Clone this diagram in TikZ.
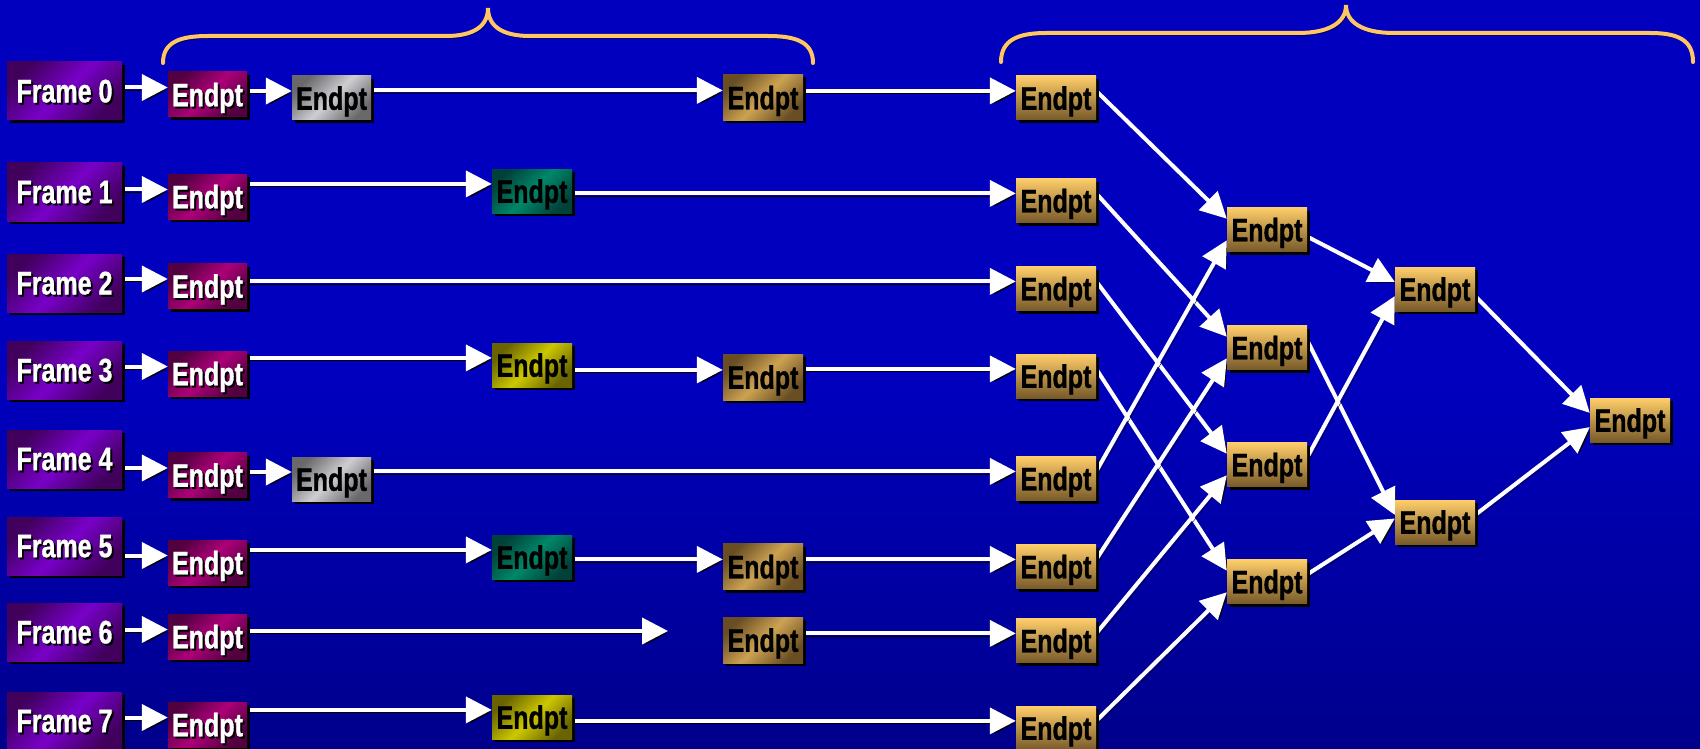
\documentclass[tikz,border=0pt]{standalone}
\usepackage{fontspec}
\newfontfamily\lblfont{Liberation Sans Bold}[FakeStretch=0.77, FakeBold=1]
\usetikzlibrary{arrows.meta}

\definecolor{bgtop}{RGB}{0,0,190}
\definecolor{bgbot}{RGB}{0,0,140}
\definecolor{braceor}{RGB}{255,198,100}
\definecolor{framelite}{RGB}{120,0,200}
\definecolor{framedark}{RGB}{64,0,92}
\definecolor{magelite}{RGB}{172,0,120}
\definecolor{magedark}{RGB}{82,0,64}
\definecolor{graylite}{RGB}{205,205,210}
\definecolor{graydark}{RGB}{105,105,108}
\definecolor{teallite}{RGB}{0,135,105}
\definecolor{tealdark}{RGB}{0,66,58}
\definecolor{yellite}{RGB}{205,200,0}
\definecolor{yeldark}{RGB}{105,100,0}
\definecolor{brownlite}{RGB}{205,162,82}
\definecolor{browndark}{RGB}{105,78,36}
\definecolor{orangetop}{RGB}{255,206,106}
\definecolor{orangebot}{RGB}{120,90,42}

\pgfdeclarelayer{bg}
\pgfdeclarelayer{links}
\pgfsetlayers{bg,links,main}

% white label with a hard black drop shadow
\newcommand\litext[1]{\makebox[0pt][l]{\hspace{2pt}\raisebox{-2pt}{\color{black}#1}}#1}

\tikzset{
  box/.style={rectangle, inner sep=0pt, minimum width=80, minimum height=44,
    text depth=0pt, font=\lblfont\fontsize{32.5}{33}\selectfont,
    preaction={fill=black, transform canvas={shift={(3pt,-3pt)}}}},
  diag/.style 2 args={left color=#1, right color=#1, middle color=#2, shading angle=45},
  framebox/.style={box, minimum width=115, minimum height=58, diag={framedark}{framelite}, text=white},
  magbox/.style={box, minimum width=79, minimum height=45, diag={magedark}{magelite}, text=white},
  graybox/.style={box, minimum width=79, diag={graydark}{graylite}, text=black},
  tealbox/.style={box, diag={tealdark}{teallite}, text=black},
  yelbox/.style={box, diag={yeldark}{yellite}, text=black},
  brownbox/.style={box, minimum height=46, diag={browndark}{brownlite}, text=black},
  orbox/.style={box, top color=orangetop, bottom color=orangebot, text=black},
  conn/.style={draw=white, line width=4pt, -{Triangle[length=26pt,width=26pt]},
    preaction={draw=black, -{Triangle[length=26pt,width=26pt]}, transform canvas={shift={(2.5pt,-2.5pt)}}}},
  brace/.style={draw=braceor, line width=4pt, line cap=round,
    preaction={draw=black, transform canvas={shift={(1.5pt,-2.5pt)}}}},
}

\begin{document}
\begin{tikzpicture}[x=1pt,y=-1pt]
\useasboundingbox (0,0) rectangle (1700,749);
\begin{pgfonlayer}{bg}
  \fill[bgtop] (0,0) rectangle (1700,749);
  \shade[top color=bgtop, bottom color=bgbot] (0,380) rectangle (1700,749);
\end{pgfonlayer}

% braces over the two stages
\draw[brace] (163,63) .. controls (163,42) and (180,36) .. (208,36) -- (446,36)
  .. controls (474,36) and (488,26) .. (488,8)
  .. controls (488,26) and (502,36) .. (530,36) -- (768,36)
  .. controls (796,36) and (813,42) .. (813,63);
\draw[brace] (1001,62) .. controls (1001,40) and (1018,33) .. (1046,33) -- (1298,33)
  .. controls (1330,33) and (1346,22) .. (1346,5)
  .. controls (1346,22) and (1362,33) .. (1394,33) -- (1650,33)
  .. controls (1678,33) and (1693,40) .. (1693,62);

% frames
\node[framebox] (F0) at (64.5,91) {\litext{Frame 0}};
\node[framebox] (F1) at (64.5,192) {\litext{Frame 1}};
\node[framebox] (F2) at (64.5,283) {\litext{Frame 2}};
\node[framebox] (F3) at (64.5,370) {\litext{Frame 3}};
\node[framebox] (F4) at (64.5,459) {\litext{Frame 4}};
\node[framebox] (F5) at (64.5,546) {\litext{Frame 5}};
\node[framebox] (F6) at (64.5,632) {\litext{Frame 6}};
\node[framebox] (F7) at (64.5,721) {\litext{Frame 7}};

% first endpoints
\node[magbox] (M0) at (207.5,94.5) {\litext{Endpt}};
\node[magbox] (M1) at (207.5,196.5) {\litext{Endpt}};
\node[magbox] (M2) at (207.5,286) {\litext{Endpt}};
\node[magbox] (M3) at (207.5,373.5) {\litext{Endpt}};
\node[magbox] (M4) at (207.5,475) {\litext{Endpt}};
\node[magbox] (M5) at (207.5,562.5) {\litext{Endpt}};
\node[magbox] (M6) at (207.5,636.5) {\litext{Endpt}};
\node[magbox] (M7) at (207.5,724.5) {\litext{Endpt}};

% intermediate endpoints
\node[graybox] (G0) at (331.5,98) {Endpt};
\node[graybox] (G4) at (331.5,479) {Endpt};
\node[tealbox] (T1) at (532,191) {Endpt};
\node[yelbox] (Y3) at (532,365) {Endpt};
\node[tealbox] (T5) at (532,557) {Endpt};
\node[yelbox] (Y7) at (532,717) {Endpt};
\node[brownbox] (B0) at (763,97.5) {Endpt};
\node[brownbox] (B3) at (763,377) {Endpt};
\node[brownbox] (B5) at (763,566.5) {Endpt};
\node[brownbox] (B6) at (763,640) {Endpt};
\coordinate (e6) at (668,631);

% merge network
\node[orbox] (O0) at (1056,98) {Endpt};
\node[orbox] (O1) at (1056,200.5) {Endpt};
\node[orbox] (O2) at (1056,288.5) {Endpt};
\node[orbox] (O3) at (1056,376) {Endpt};
\node[orbox] (O4) at (1056,478.5) {Endpt};
\node[orbox] (O5) at (1056,566.5) {Endpt};
\node[orbox] (O6) at (1056,640.5) {Endpt};
\node[orbox] (O7) at (1056,728) {Endpt};
\node[orbox] (P0) at (1267,229.5) {Endpt};
\node[orbox] (P1) at (1267,347.5) {Endpt};
\node[orbox] (P2) at (1267,464.5) {Endpt};
\node[orbox] (P3) at (1267,581.5) {Endpt};
\node[orbox] (Q0) at (1435,289) {Endpt};
\node[orbox] (Q1) at (1435,522) {Endpt};
\node[orbox] (R) at (1630,420) {Endpt};

\begin{pgfonlayer}{links}
  % per-frame pipelines
  \foreach \i in {0,...,7} \draw[conn] (F\i.east |- M\i.170) -- (M\i.170);
  \draw[conn] (M0.east |- G0.170) -- (G0.170);
  \draw[conn] (G0.east |- B0.170) -- (B0.170);
  \draw[conn] (B0.east |- O0.170) -- (O0.170);
  \draw[conn] (M1.east |- T1.170) -- (T1.170);
  \draw[conn] (T1.east |- O1.170) -- (O1.170);
  \draw[conn] (M2.east |- O2.170) -- (O2.170);
  \draw[conn] (M3.east |- Y3.170) -- (Y3.170);
  \draw[conn] (Y3.east |- B3.170) -- (B3.170);
  \draw[conn] (B3.east |- O3.170) -- (O3.170);
  \draw[conn] (M4.east |- G4.170) -- (G4.170);
  \draw[conn] (G4.east |- O4.170) -- (O4.170);
  \draw[conn] (M5.east |- T5.170) -- (T5.170);
  \draw[conn] (T5.east |- B5.170) -- (B5.170);
  \draw[conn] (B5.east |- O5.170) -- (O5.170);
  \draw[conn] (M6.east |- e6) -- (e6);
  \draw[conn] (B6.east |- O6.170) -- (O6.170);
  \draw[conn] (M7.east |- Y7.170) -- (Y7.170);
  \draw[conn] (Y7.east |- O7.170) -- (O7.170);
  % butterfly merge
  \foreach \i/\j in {0/0,1/1,2/2,3/3} \draw[conn] (O\i.10) -- (P\j.165);
  \foreach \i/\j in {4/0,5/1,6/2,7/3} \draw[conn] (O\i.10) -- (P\j.195);
  \draw[conn] (P0.-10) -- (Q0.170);
  \draw[conn] (P1.10) -- (Q1.170);
  \draw[conn] (P2.10) -- (Q0.190);
  \draw[conn] (P3.10) -- (Q1.175);
  \draw[conn] (Q0.-10) -- (R.170);
  \draw[conn] (Q1.10) -- (R.190);
\end{pgfonlayer}
\end{tikzpicture}
\end{document}
